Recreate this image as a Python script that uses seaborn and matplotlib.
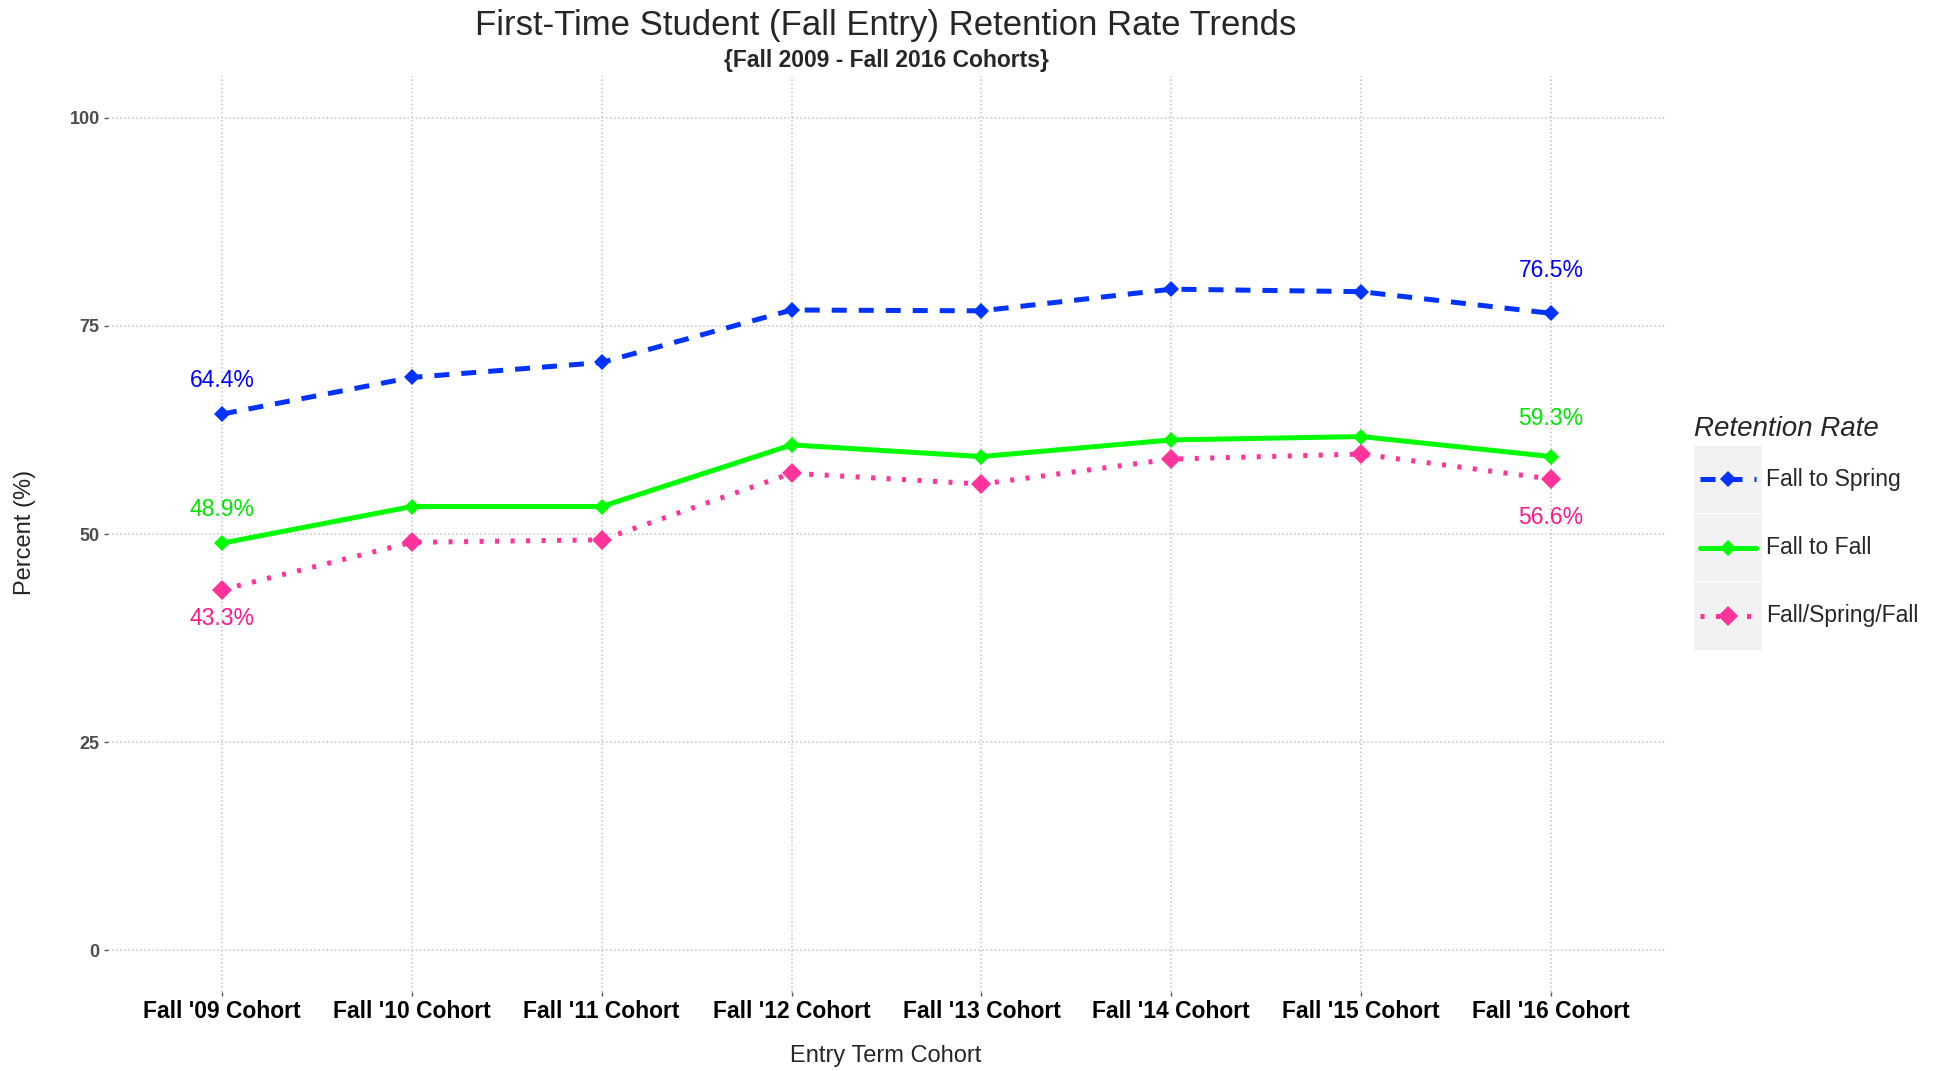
import matplotlib
matplotlib.use("Agg")
import matplotlib.pyplot as plt
import seaborn as sns
import pandas as pd
from matplotlib.patches import Rectangle

# chart data
cohorts = ["Fall '09 Cohort", "Fall '10 Cohort", "Fall '11 Cohort", "Fall '12 Cohort",
           "Fall '13 Cohort", "Fall '14 Cohort", "Fall '15 Cohort", "Fall '16 Cohort"]
fall_to_spring = [64.4, 68.8, 70.6, 76.9, 76.8, 79.4, 79.1, 76.5]
fall_to_fall = [48.9, 53.3, 53.3, 60.7, 59.3, 61.3, 61.7, 59.3]
fall_spring_fall = [43.3, 49.0, 49.3, 57.3, 56.0, 59.0, 59.6, 56.6]
series_names = ["Fall to Spring", "Fall to Fall", "Fall/Spring/Fall"]
y_ticks = [0, 25, 50, 75, 100]

W, H = 1946, 1071


def px_box(x0, y0, x1, y1):
    """Pixel box (top-left origin) to figure fraction [left, bottom, w, h]."""
    return [x0 / W, 1 - y1 / H, (x1 - x0) / W, (y1 - y0) / H]


def main():
    sns.set_style("white")
    plt.rcParams['font.family'] = ['Liberation Sans', 'DejaVu Sans']

    df = pd.DataFrame({
        "cohort": cohorts * 3,
        "rate": series_names[0:1] * 8 + series_names[1:2] * 8 + series_names[2:3] * 8,
        "value": fall_to_spring + fall_to_fall + fall_spring_fall,
    })

    styles = {
        "Fall to Spring": dict(color="#0033ff", text="#0000ff", ls=(0, (3, 2.4)), ms=8.5,
                               nudge=(4.0, 5.1)),
        "Fall to Fall": dict(color="#00ff00", text="#00e600", ls="-", ms=8.5,
                             nudge=(4.1, 4.6)),
        "Fall/Spring/Fall": dict(color="#ff3399", text="#ff1a8c", ls=(0, (0.8, 2.3)), ms=10,
                                 nudge=(-3.5, -4.6)),
    }

    fig = plt.figure(figsize=(W / 100, H / 100), dpi=100)
    ax = fig.add_axes(px_box(108, 76, 1665, 992))

    for name in series_names:
        st = styles[name]
        sub = df[df["rate"] == name]
        sns.lineplot(data=sub, x="cohort", y="value", ax=ax, sort=False,
                     color=st["color"], linewidth=3.6, linestyle=st["ls"],
                     marker="D", markersize=st["ms"], markeredgecolor=st["color"],
                     markeredgewidth=0, legend=False)
        vals = sub["value"].tolist()
        for idx, nudge in zip([0, len(vals) - 1], st["nudge"]):
            ax.text(idx, vals[idx] + nudge, f"{vals[idx]:.1f}%", color=st["text"],
                    ha="center", va="center", fontsize=16.5)

    ax.set_xlim(-0.6, len(cohorts) - 0.4)
    ax.set_ylim(-5, 105)
    ax.set_yticks(y_ticks)
    ax.set_axisbelow(True)
    ax.grid(True, linestyle=":", color="#c4c4c4", linewidth=1.1)
    for s in ax.spines.values():
        s.set_visible(False)
    ax.tick_params(axis="both", bottom=True, left=True, length=3, width=1,
                   color="#555555", pad=3)
    ax.tick_params(axis="x", labelsize=16.5, labelcolor="black")
    ax.tick_params(axis="y", labelsize=13, labelcolor="#4d4d4d")
    for lab in ax.get_xticklabels() + ax.get_yticklabels():
        lab.set_fontweight("bold")
    ax.set_xlabel("")
    ax.set_ylabel("")

    # titles and axis labels
    fig.text(886 / W, 1 - 25 / H, "First-Time Student (Fall Entry) Retention Rate Trends",
             ha="center", va="center", fontsize=25)
    fig.text(886 / W, 1 - 60 / H, "{Fall 2009 - Fall 2016 Cohorts}",
             ha="center", va="center", fontsize=16.5, fontweight="bold")
    fig.text(886 / W, 1 - 1056 / H, "Entry Term Cohort", ha="center", va="center",
             fontsize=17)
    fig.text(25 / W, 1 - 532 / H, "Percent (%)", ha="center", va="center",
             rotation=90, fontsize=17)

    # legend drawn by hand, ggplot style
    fig.text(1694 / W, 1 - 429 / H, "Retention Rate", ha="left", va="center",
             fontsize=20, style="italic")
    lax = fig.add_axes(px_box(1694, 445, 1946, 650))
    lax.set_xlim(0, 252)
    lax.set_ylim(205, 0)
    lax.axis("off")
    key_h = 205 / 3
    for i, name in enumerate(series_names):
        st = styles[name]
        y0 = i * key_h
        lax.add_patch(Rectangle((0, y0 + 0.5), 68, key_h - 1, facecolor="#f2f2f2",
                                edgecolor="none"))
        yc = y0 + key_h / 2
        lax.plot([6, 62], [yc, yc], color=st["color"], linewidth=3.6, linestyle=st["ls"])
        lax.plot([34], [yc], marker="D", color=st["color"], markersize=st["ms"],
                 markeredgewidth=0)
        lax.text(72, yc, name, ha="left", va="center", fontsize=16.5)

    fig.savefig("out.png", dpi=100, facecolor="white")


if __name__ == "__main__":
    main()
